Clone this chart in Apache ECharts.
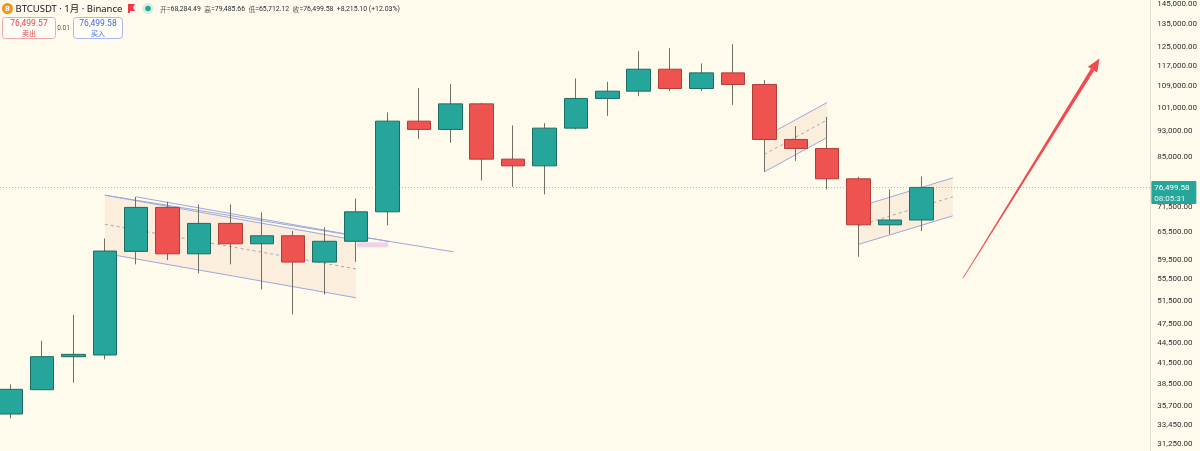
<!DOCTYPE html>
<html>
<head>
<meta charset="utf-8">
<title>BTCUSDT 1月 Binance</title>
<script src="https://cdn.jsdelivr.net/npm/echarts@6/dist/echarts.min.js"></script>
<style>
  html, body { margin: 0; padding: 0; background: #fffbec; }
  #chart { width: 1200px; height: 451px; }
</style>
</head>
<body>
<div id="chart"></div>
<script>
// 月K 2023-11 ~ 2026-04，x 用月份序号（0 = 2023-11）
var months = ['2023-11', '2023-12', '2024-01', '2024-02', '2024-03', '2024-04', '2024-05', '2024-06',
    '2024-07', '2024-08', '2024-09', '2024-10', '2024-11', '2024-12', '2025-01', '2025-02', '2025-03',
    '2025-04', '2025-05', '2025-06', '2025-07', '2025-08', '2025-09', '2025-10', '2025-11', '2025-12',
    '2026-01', '2026-02', '2026-03', '2026-04'];

var opens = [34720, 37790, 42400, 42650, 61210, 71350, 60690, 67480, 62850, 64630, 58970, 63400,
    70260, 96380, 93640, 102370, 84430, 82480, 94060, 104320, 107000, 115520, 108010, 114050,
    109520, 90420, 87630, 78830, 67150, 68284.49];
var closes = [37840, 42400, 42750, 61280, 71350, 60690, 67480, 62850, 64630, 58970, 63400, 70260,
    96380, 93640, 102370, 84430, 82480, 94060, 104320, 107000, 115520, 108010, 114050, 109520,
    90420, 87630, 78830, 67150, 68284.49, 76499.58];
var lows = [34200, 37750, 38720, 42010, 58500, 59390, 56690, 58500, 53620, 49140, 52690, 59030,
    67010, 90610, 89360, 78390, 76660, 74660, 93640, 98180, 105150, 107110, 107110, 102010,
    80780, 83930, 75970, 60070, 65010, 65712.12];
var highs = [38510, 44830, 49030, 64050, 74030, 72760, 72100, 72100, 70120, 65700, 66550, 73620,
    99340, 108230, 109640, 102730, 94950, 95710, 111840, 110520, 123000, 124300, 117850, 126040,
    111190, 94710, 97840, 79380, 75970, 79485.66];

var lastPrice = 76499.58;
var yTicks = [145000, 135000, 125000, 117000, 109000, 101000, 93000, 85000, 77500, 71500, 65500,
    59500, 55500, 51500, 47500, 44500, 41500, 38500, 35700, 33450, 31250];

// 画线（x 为月份序号，y 为价格）
// 平行通道: [x起, x止, 上沿起, 上沿止, 下沿起, 下沿止]
var channels = [
    [3, 11, 74470, 63660, 60780, 52070],
    [24, 26, 91250, 102870, 80780, 91060],
    [27, 30, 71500, 79100, 62720, 69290]
];
// 趋势线: [x1, y1, x2, y2]
var trendLines = [
    [3, 74470, 14.1, 61120],
    [4, 74030, 12.08, 63300]
];
var pinkBox = [[11.03, 63160, 12.02, 62070]];
var arrowLine = [[30.32, 55710, 34.67, 119910]];

var lineBlue = '#9ea8da';

var wickData = [];
var bodyData = [];
for (var i = 0; i < opens.length; i++) {
    wickData.push([i, opens[i], closes[i], lows[i], highs[i]]);
    bodyData.push([i, opens[i], closes[i], Math.min(opens[i], closes[i]), Math.max(opens[i], closes[i])]);
}

function fmt(v) {
    return Number(v).toLocaleString('en-US', {minimumFractionDigits: 2, maximumFractionDigits: 2});
}

function seg(p, q, style) {
    return {type: 'line', shape: {x1: p[0], y1: p[1], x2: q[0], y2: q[1]}, style: style};
}

function renderChannel(params, api) {
    var a = api.coord([api.value(0), api.value(2)]);
    var b = api.coord([api.value(1), api.value(3)]);
    var c = api.coord([api.value(1), api.value(5)]);
    var d = api.coord([api.value(0), api.value(4)]);
    var m0 = [a[0], (a[1] + d[1]) / 2];
    var m1 = [b[0], (b[1] + c[1]) / 2];
    return {
        type: 'group', children: [
            {type: 'polygon', shape: {points: [a, b, c, d]}, style: {fill: 'rgba(235,165,140,0.15)'}},
            seg(a, b, {stroke: lineBlue, lineWidth: 1}),
            seg(d, c, {stroke: lineBlue, lineWidth: 1}),
            seg(m0, m1, {stroke: '#a3a6c4', lineWidth: 1, lineDash: [3, 3]})
        ]
    };
}

function renderTrend(params, api) {
    var p = api.coord([api.value(0), api.value(1)]);
    var q = api.coord([api.value(2), api.value(3)]);
    return seg(p, q, {stroke: lineBlue, lineWidth: 1});
}

function renderBox(params, api) {
    var p = api.coord([api.value(0), api.value(1)]);
    var q = api.coord([api.value(2), api.value(3)]);
    return {
        type: 'rect',
        shape: {x: p[0], y: p[1], width: q[0] - p[0], height: q[1] - p[1]},
        style: {fill: 'rgba(220,160,220,0.45)'}
    };
}

function renderArrow(params, api) {
    var p = api.coord([api.value(0), api.value(1)]);
    var q = api.coord([api.value(2), api.value(3)]);
    var dx = q[0] - p[0], dy = q[1] - p[1];
    var len = Math.sqrt(dx * dx + dy * dy);
    var ux = dx / len, uy = dy / len, nx = -uy, ny = ux;
    var headLen = 13, b = [q[0] - ux * headLen, q[1] - uy * headLen];
    function off(pt, w) { return [pt[0] + nx * w, pt[1] + ny * w]; }
    return {
        type: 'group', children: [
            {type: 'polygon', shape: {points: [off(p, 0.4), off(b, 1.9), off(b, -1.9), off(p, -0.4)]},
                style: {fill: '#f04a4f'}},
            {type: 'polygon', shape: {points: [off(b, 5.5), q, off(b, -5.5)]}, style: {fill: '#f04a4f'}}
        ]
    };
}

function renderLast(params, api) {
    var p = api.coord([0, api.value(0)]);
    var cs = params.coordSys;
    var axisX = cs.x + cs.width;
    var y = Math.round(p[1]) + 0.5;
    return {
        type: 'group', children: [
            {type: 'line', shape: {x1: 0, y1: y, x2: axisX, y2: y},
                style: {stroke: 'rgba(38,166,154,0.55)', lineWidth: 1, lineDash: [1, 2]}, z2: 1},
            {type: 'rect', shape: {x: axisX + 1, y: y - 6.5, width: 45, height: 23, r: 1},
                style: {fill: '#26a69a'}, z2: 5},
            {type: 'text', x: axisX + 4, y: y + 0.5,
                style: {text: fmt(api.value(0)), fill: '#fff', font: '8px Roboto', verticalAlign: 'middle'}, z2: 6},
            {type: 'text', x: axisX + 4, y: y + 11,
                style: {text: '08:05:31', fill: '#e6f6f4', font: '8px Roboto', verticalAlign: 'middle'}, z2: 6}
        ]
    };
}

var myChart = echarts.init(document.getElementById('chart'), null, {renderer: 'canvas'});

var option = {
    backgroundColor: '#fffbec',
    animation: false,
    grid: {left: 0, right: 47, top: 0, bottom: 0},
    xAxis: {type: 'value', min: -0.337, max: 36.29, show: false},
    yAxis: {
        type: 'log',
        position: 'right',
        min: 30520,
        max: 146940,
        axisLine: {show: true, onZero: false, lineStyle: {color: '#e4e0cf'}},
        axisTick: {show: false},
        splitLine: {show: false},
        axisLabel: {
            customValues: yTicks,
            formatter: function (v) { return fmt(v); },
            margin: 7,
            fontSize: 8,
            fontFamily: 'Roboto',
            color: '#2f2f2f'
        }
    },
    series: [
        {
            name: '通道', type: 'custom', z: 1, silent: true,
            encode: {x: [0, 1], y: [2, 3, 4, 5]},
            renderItem: renderChannel, data: channels
        },
        {
            name: '趋势线', type: 'custom', z: 1, silent: true,
            encode: {x: [0, 2], y: [1, 3]},
            renderItem: renderTrend, data: trendLines
        },
        {
            name: '框', type: 'custom', z: 1, silent: true,
            encode: {x: [0, 2], y: [1, 3]},
            renderItem: renderBox, data: pinkBox
        },
        {
            name: '影线', type: 'candlestick', data: wickData, barWidth: 1, silent: true,
            encode: {x: 0, y: [1, 2, 3, 4]},
            itemStyle: {color: '#6f6f68', color0: '#6f6f68', borderColor: '#6f6f68', borderColor0: '#6f6f68', borderWidth: 1}
        },
        {
            name: 'BTCUSDT', type: 'candlestick', data: bodyData, barWidth: 24, silent: true,
            encode: {x: 0, y: [1, 2, 3, 4]},
            itemStyle: {color: '#26a69a', color0: '#ef5350', borderColor: '#1d6c64', borderColor0: '#b13d3b', borderWidth: 1}
        },
        {
            name: '箭头', type: 'custom', z: 3, silent: true,
            encode: {x: [0, 2], y: [1, 3]},
            renderItem: renderArrow, data: arrowLine
        },
        {
            name: '现价', type: 'custom', z: 5, silent: true, clip: false,
            encode: {y: 0},
            renderItem: renderLast, data: [[lastPrice]]
        }
    ],
    graphic: [
        {type: 'circle', shape: {cx: 7.5, cy: 8.5, r: 5.5}, style: {fill: '#f7931a'}},
        {type: 'text', x: 7.5, y: 9, style: {text: 'B', fill: '#fff', font: 'bold 7px Roboto', align: 'center', verticalAlign: 'middle'}},
        {type: 'text', x: 15.5, y: 9, style: {text: 'BTCUSDT · 1月 · Binance', fill: '#131722',
            font: '9.5px "Noto Sans", "Noto Sans CJK SC"', verticalAlign: 'middle'}},
        {type: 'polygon', shape: {points: [[128, 4], [135, 4], [133, 7.5], [135, 11], [130, 11], [130, 13], [128, 13]]},
            style: {fill: '#f23645'}},
        {type: 'circle', shape: {cx: 148, cy: 8.5, r: 5.5}, style: {fill: 'rgba(38,166,154,0.18)'}},
        {type: 'circle', shape: {cx: 148, cy: 8.5, r: 2.8}, style: {fill: '#26a69a'}},
        {type: 'text', x: 160, y: 9, style: {
            text: '{k|开}{v|=68,284.49} {k|高}{v|=79,485.66} {k|低}{v|=65,712.12} {k|收}{v|=76,499.58} {v|+8,215.10 (+12.03%)}',
            verticalAlign: 'middle',
            rich: {
                k: {fill: '#555', font: '6.8px "Noto Sans CJK SC"'},
                v: {fill: '#2a2e39', font: '6.9px Roboto'}
            }
        }},
        {type: 'rect', shape: {x: 2.5, y: 17.5, width: 53, height: 21, r: 3}, style: {fill: '#fffdf6', stroke: '#f3a6ab', lineWidth: 1}},
        {type: 'text', x: 29, y: 23.5, style: {text: '76,499.57', fill: '#e5464e', font: '8.5px Roboto', align: 'center', verticalAlign: 'middle'}},
        {type: 'text', x: 29, y: 33, style: {text: '卖出', fill: '#e5464e', font: '7px "Noto Sans CJK SC"', align: 'center', verticalAlign: 'middle'}},
        {type: 'text', x: 63.5, y: 28, style: {text: '0.01', fill: '#555', font: '6.5px Roboto', align: 'center', verticalAlign: 'middle'}},
        {type: 'rect', shape: {x: 73.5, y: 17.5, width: 49, height: 21, r: 3}, style: {fill: '#fffdf6', stroke: '#a9b9ef', lineWidth: 1}},
        {type: 'text', x: 98, y: 23.5, style: {text: '76,499.58', fill: '#3b6cea', font: '8.5px Roboto', align: 'center', verticalAlign: 'middle'}},
        {type: 'text', x: 98, y: 33, style: {text: '买入', fill: '#3b6cea', font: '7px "Noto Sans CJK SC"', align: 'center', verticalAlign: 'middle'}}
    ]
};

myChart.setOption(option);
</script>
</body>
</html>
